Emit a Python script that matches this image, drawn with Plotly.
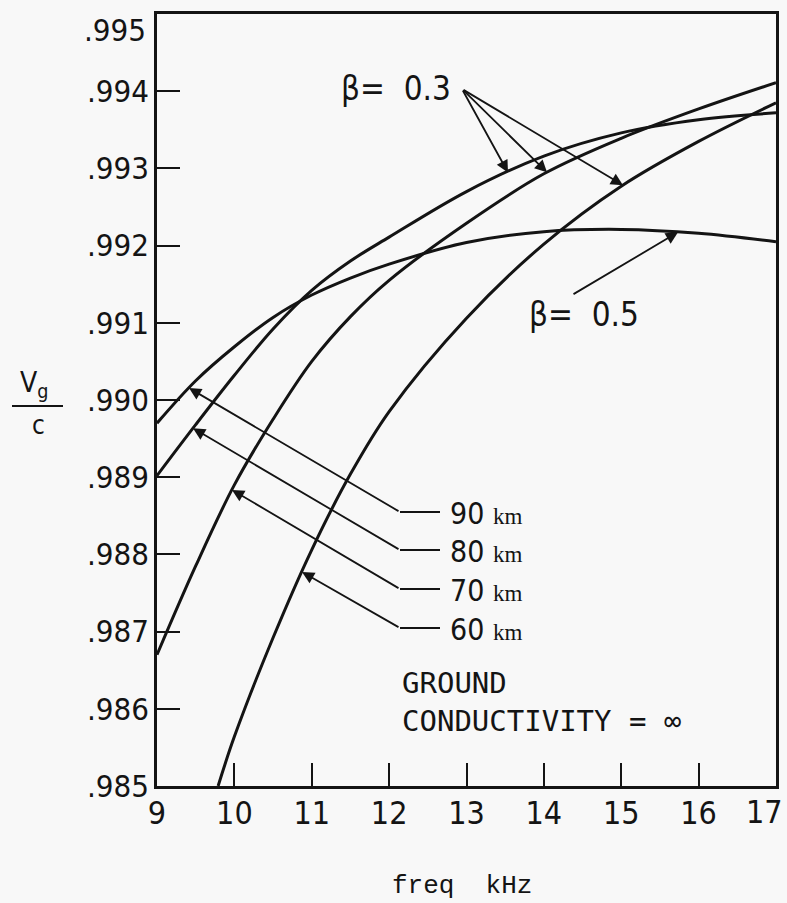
import numpy as np
import plotly.graph_objects as go

# ---------------- data ----------------
freq = [9.0, 9.5, 10.0, 10.5, 11.0, 11.5, 12.0, 13.0, 14.0, 15.0, 16.0, 17.0]
vg_90km_b05 = [0.98970, 0.99025, 0.99069, 0.99107, 0.99136, 0.99158, 0.99176,
               0.99204, 0.99218, 0.99221, 0.99216, 0.99205]
vg_80km_b03 = [0.98902, 0.98968, 0.99032, 0.99092, 0.99142, 0.99180, 0.99211,
               0.99270, 0.99316, 0.99346, 0.99363, 0.99372]
vg_70km_b03 = [0.98670, 0.98785, 0.98890, 0.98975, 0.99050, 0.99108, 0.99155,
               0.99229, 0.99293, 0.99339, 0.99377, 0.99411]
freq_60 = [9.79, 10.0, 10.5, 11.0, 11.5, 12.0, 13.0, 14.0, 15.0, 16.0, 17.0]
vg_60km_b03 = [0.98500, 0.98564, 0.98692, 0.98806, 0.98904, 0.98985, 0.99106,
               0.99202, 0.99277, 0.99335, 0.99385]

y_tickvals = [0.985, 0.986, 0.987, 0.988, 0.989, 0.990, 0.991, 0.992, 0.993, 0.994, 0.995]
y_ticktext = [".985", ".986", ".987", ".988", ".989", ".990", ".991", ".992", ".993", ".994", ".995"]
x_tickvals = [9, 10, 11, 12, 13, 14, 15, 16, 17]
x_ticktext = ["9", "10", "11", "12", "13", "14", "15", "16", "17"]

altitude_names = ["90", "80", "70", "60"]
beta_labels = ["\u03b2=\u00a0\u00a00.3", "\u03b2=\u00a0\u00a00.5"]

# ---------------- figure geometry ----------------
W, H = 787, 903
ML, MR, MT, MB = 157, 11, 14, 117
PW = W - ML - MR
PH = H - MT - MB
X0, X1 = 9.0, 17.0
Y0, Y1 = 0.985, 0.995


def px2x(px):
    return X0 + (px - ML) / PW * (X1 - X0)


def py2y(py):
    return Y1 - (py - MT) / PH * (Y1 - Y0)


def px2paper(px):
    return (px - ML) / PW


def py2paper(py):
    return (H - MB - py) / PH


NARROW = "Liberation Sans Narrow, DejaVu Sans Condensed, Arial Narrow, sans-serif"
SERIF = "Liberation Serif, DejaVu Serif, serif"
MONO = "DejaVu Sans Mono, monospace"
TYPE = "Courier New, Liberation Mono, monospace"
INK = "#141414"
TICK_FONT = dict(family=NARROW, size=31, color=INK)
XTICK_FONT = dict(family=NARROW, size=32, color=INK)

fig = go.Figure()
series = [
    (freq, vg_90km_b05),
    (freq, vg_80km_b03),
    (freq, vg_70km_b03),
    (freq_60, vg_60km_b03),
]
for xs, ys in series:
    fig.add_trace(go.Scatter(x=xs, y=ys, mode="lines",
                             line=dict(color=INK, width=3, shape="spline", smoothing=1.0),
                             showlegend=False, hoverinfo="skip"))

annotations = []
shapes = []
ARROW = dict(arrowhead=2, arrowsize=1.35, arrowwidth=1.8, arrowcolor=INK, standoff=0)

# the last tick of each axis sits on the frame; its label is drawn inside the page
annotations.append(dict(xref="x", yref="paper", x=x_tickvals[-1], y=py2paper(812),
                        xanchor="right", yanchor="middle", xshift=9, showarrow=False,
                        text=x_ticktext[-1], font=XTICK_FONT))
annotations.append(dict(xref="paper", yref="y", x=px2paper(148), y=y_tickvals[-1],
                        xanchor="right", yanchor="middle", yshift=-16, showarrow=False,
                        text=y_ticktext[-1], font=TICK_FONT))

# beta = 0.3 label with three arrows
annotations.append(dict(xref="paper", yref="paper", x=px2paper(396), y=py2paper(88),
                        xanchor="center", yanchor="middle",
                        text=beta_labels[0], showarrow=False,
                        font=dict(family=NARROW, size=33, color=INK)))
tail_x, tail_y = px2x(462), py2y(89)
for xs, ys, tip_px in [(freq, vg_80km_b03, 508), (freq, vg_70km_b03, 547), (freq_60, vg_60km_b03, 623)]:
    tx = px2x(tip_px)
    ty = float(np.interp(tx, xs, ys))
    annotations.append(dict(x=tx, y=ty, ax=tail_x, ay=tail_y, axref="x", ayref="y",
                            xref="x", yref="y", text="", showarrow=True, **ARROW))

# beta = 0.5 label with arrow
annotations.append(dict(xref="paper", yref="paper", x=px2paper(584), y=py2paper(314),
                        xanchor="center", yanchor="middle",
                        text=beta_labels[1], showarrow=False,
                        font=dict(family=NARROW, size=33, color=INK)))
tx = px2x(678)
ty = float(np.interp(tx, freq, vg_90km_b05))
annotations.append(dict(x=tx, y=ty, ax=px2x(572), ay=py2y(295), axref="x", ayref="y",
                        xref="x", yref="y", text="", showarrow=True, **ARROW))

# altitude labels with leaders
leader_rows = [512, 550, 589, 628]
tips = [(freq, vg_90km_b05, 189), (freq, vg_80km_b03, 193),
        (freq, vg_70km_b03, 232), (freq_60, vg_60km_b03, 302)]
for name, row, (xs, ys, tip_px) in zip(altitude_names, leader_rows, tips):
    ex, ey = px2x(400), py2y(row)
    shapes.append(dict(type="line", xref="x", yref="y", x0=ex, y0=ey, x1=px2x(440), y1=ey,
                       line=dict(color=INK, width=2)))
    tx = px2x(tip_px)
    ty = float(np.interp(tx, xs, ys))
    annotations.append(dict(x=tx, y=ty, ax=ex, ay=ey, axref="x", ayref="y",
                            xref="x", yref="y", text="", showarrow=True, **ARROW))
    annotations.append(dict(xref="paper", yref="paper", x=px2paper(448), y=py2paper(row + 1),
                            xanchor="left", yanchor="middle", showarrow=False,
                            text=name + "\u00a0<span style='font-family:" + SERIF + ";font-size:23px'>km</span>",
                            font=dict(family=NARROW, size=30, color=INK)))

# ground conductivity note
annotations.append(dict(xref="paper", yref="paper", x=px2paper(400), y=py2paper(702),
                        xanchor="left", yanchor="middle", align="left", showarrow=False,
                        text="GROUND<br>CONDUCTIVITY = \u221e",
                        font=dict(family=MONO, size=29, color=INK)))

# x axis title
annotations.append(dict(xref="paper", yref="paper", x=px2paper(462), y=py2paper(886),
                        xanchor="center", yanchor="middle", showarrow=False,
                        text="freq  kHz", font=dict(family=TYPE, size=26, color=INK)))

# y axis title as a fraction Vg / c
annotations.append(dict(xref="paper", yref="paper", x=px2paper(34), y=py2paper(405),
                        xanchor="center", yanchor="bottom", showarrow=False,
                        text="V<sub>g</sub>", font=dict(family=NARROW, size=28, color=INK)))
annotations.append(dict(xref="paper", yref="paper", x=px2paper(38), y=py2paper(408),
                        xanchor="center", yanchor="top", showarrow=False,
                        text="c", font=dict(family=NARROW, size=26, color=INK)))
shapes.append(dict(type="line", xref="paper", yref="paper",
                   x0=px2paper(12), x1=px2paper(63), y0=py2paper(406), y1=py2paper(406),
                   line=dict(color=INK, width=2)))

axis_common = dict(showline=True, linecolor=INK, linewidth=2.5, mirror=True,
                   ticks="inside", ticklen=23, tickwidth=2, tickcolor=INK,
                   showgrid=False, zeroline=False, ticklabeloverflow="allow")

EPS_X = 1e-6
EPS_Y = 1e-9
fig.update_layout(
    width=W, height=H,
    margin=dict(l=ML, r=MR, t=MT, b=MB, autoexpand=False),
    paper_bgcolor="#f8f8f8", plot_bgcolor="#f8f8f8",
    xaxis=dict(range=[X0 - EPS_X, X1 + EPS_X], tickvals=x_tickvals[:-1], ticktext=x_ticktext[:-1],
               ticklabelstandoff=-3, tickfont=XTICK_FONT, **axis_common),
    yaxis=dict(range=[Y0 - EPS_Y, Y1 + EPS_Y], tickvals=y_tickvals[:-1], ticktext=y_ticktext[:-1],
               ticklabelstandoff=-1, tickfont=TICK_FONT, **axis_common),
    annotations=annotations,
    shapes=shapes,
    showlegend=False,
)

fig.write_html("out.html", config={"displayModeBar": False},
               post_script="document.body.style.margin='0px';document.body.style.overflow='hidden';")
